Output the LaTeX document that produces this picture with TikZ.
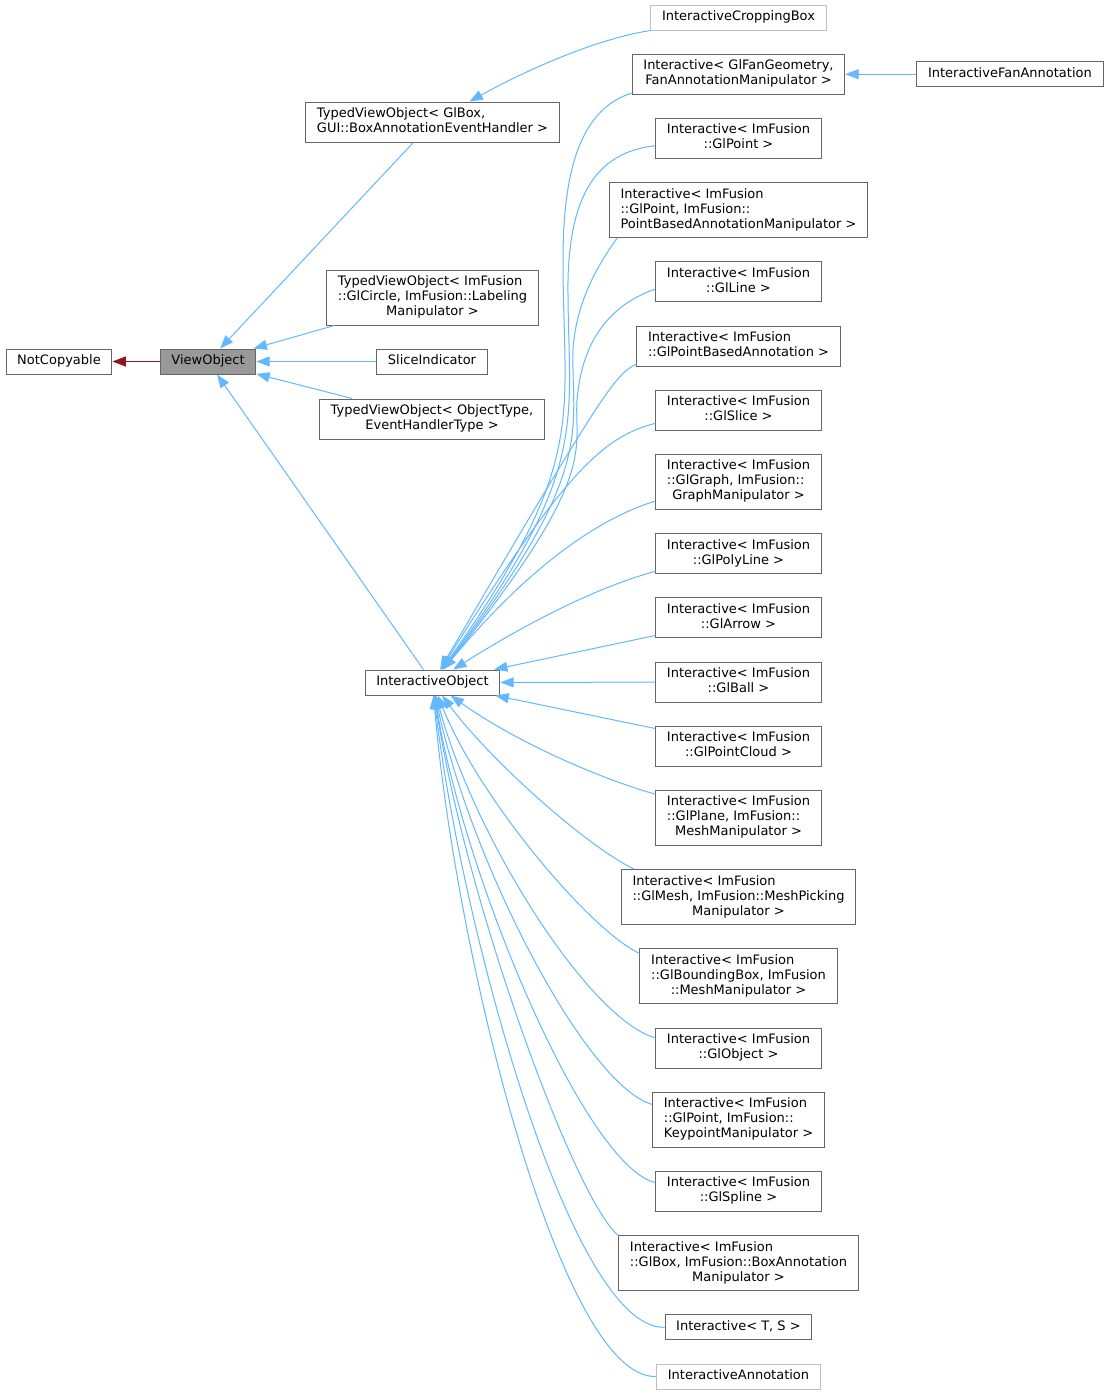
\documentclass[tikz,border=0pt]{standalone}
\usepackage{fontspec}
\setmainfont{DejaVu Sans}
\usetikzlibrary{positioning,arrows.meta}

\definecolor{boxgray}{HTML}{666666}
\definecolor{faintgray}{HTML}{BFBFBF}
\definecolor{nodefill}{HTML}{999999}
\definecolor{edgeblue}{HTML}{63B8FF}
\definecolor{edgered}{HTML}{8B1A1A}

% first lines left, last line centred
\newcommand{\classlbl}[2]{\begin{tabular}{@{}l@{}}#1\\\multicolumn{1}{@{}c@{}}{#2}\end{tabular}}

\begin{document}
\begin{tikzpicture}[x=0.75pt, y=-0.75pt,
    cls/.style = {draw=boxgray, line width=0.75pt, inner xsep=8.4pt, inner ysep=3.75pt,
                  font=\fontsize{9.75}{11.25}\selectfont, execute at begin node=\strut},
    faint/.style = {cls, draw=faintgray},
    inh/.style = {draw=edgeblue, line width=0.75pt, -{Triangle[length=10pt, width=7.5pt]}},
    node distance={17.4pt}]
    \fill[white] (0,0) rectangle (1107,1396);
    \useasboundingbox (0,0) rectangle (1107,1396);

    % left and middle
    \node[cls] (nc) at (59,361.5) {NotCopyable};
    \node[cls, fill=nodefill] (vo) at (208,361.5) {ViewObject};
    \node[cls] (gb) at (432.5,122) {\classlbl{TypedViewObject< GlBox,}{GUI::BoxAnnotationEventHandler >}};
    \node[cls] (gc) at (432.5,297.5) {\classlbl{TypedViewObject< ImFusion\\::GlCircle, ImFusion::Labeling}{Manipulator >}};
    \node[cls] (si) at (432,361.5) {SliceIndicator};
    \node[cls] (ot) at (432,419) {\classlbl{TypedViewObject< ObjectType,}{EventHandlerType >}};
    \node[cls] (io) at (432.5,682.5) {InteractiveObject};

    % right column
    \node[faint] (crop) at (738.5,17.5) {InteractiveCroppingBox};
    \node[cls] (fan) [below=of crop] {\classlbl{Interactive< GlFanGeometry,}{FanAnnotationManipulator >}};
    \node[cls] (fa) [right=53.25pt of fan] {InteractiveFanAnnotation};
    \node[cls] (gp) [below=of fan] {\classlbl{Interactive< ImFusion}{::GlPoint >}};
    \node[cls] (pb) [below=of gp] {\classlbl{Interactive< ImFusion\\::GlPoint, ImFusion::}{PointBasedAnnotationManipulator >}};
    \node[cls] (gl) [below=of pb] {\classlbl{Interactive< ImFusion}{::GlLine >}};
    \node[cls] (gpb) [below=of gl] {\classlbl{Interactive< ImFusion}{::GlPointBasedAnnotation >}};
    \node[cls] (gs) [below=of gpb] {\classlbl{Interactive< ImFusion}{::GlSlice >}};
    \node[cls] (gg) [below=of gs] {\classlbl{Interactive< ImFusion\\::GlGraph, ImFusion::}{GraphManipulator >}};
    \node[cls] (gpl) [below=of gg] {\classlbl{Interactive< ImFusion}{::GlPolyLine >}};
    \node[cls] (ga) [below=of gpl] {\classlbl{Interactive< ImFusion}{::GlArrow >}};
    \node[cls] (gba) [below=of ga] {\classlbl{Interactive< ImFusion}{::GlBall >}};
    \node[cls] (gpc) [below=of gba] {\classlbl{Interactive< ImFusion}{::GlPointCloud >}};
    \node[cls] (gpn) [below=of gpc] {\classlbl{Interactive< ImFusion\\::GlPlane, ImFusion::}{MeshManipulator >}};
    \node[cls] (gm) [below=of gpn] {\classlbl{Interactive< ImFusion\\::GlMesh, ImFusion::MeshPicking}{Manipulator >}};
    \node[cls] (gbb) [below=of gm] {\classlbl{Interactive< ImFusion\\::GlBoundingBox, ImFusion}{::MeshManipulator >}};
    \node[cls] (go) [below=of gbb] {\classlbl{Interactive< ImFusion}{::GlObject >}};
    \node[cls] (gk) [below=of go] {\classlbl{Interactive< ImFusion\\::GlPoint, ImFusion::}{KeypointManipulator >}};
    \node[cls] (gsp) [below=of gk] {\classlbl{Interactive< ImFusion}{::GlSpline >}};
    \node[cls] (gbx) [below=of gsp] {\classlbl{Interactive< ImFusion\\::GlBox, ImFusion::BoxAnnotation}{Manipulator >}};
    \node[cls] (ts) [below=of gbx] {Interactive< T, S >};
    \node[faint] (ia) [below=of ts] {InteractiveAnnotation};

    % inheritance
    \draw[inh, draw=edgered] (vo) -- (nc);
    \draw[inh] (gb) -- (vo);
    \draw[inh] (gc) -- (vo);
    \draw[inh] (si) -- (vo);
    \draw[inh] (ot) -- (vo);
    \draw[inh] (io) -- (vo);
    \draw[inh] (crop) .. controls (600,38) and (530,68) .. (gb);
    \draw[inh] (fa) -- (fan);

    % upper children
    \draw[inh] (fan.190) .. controls (585,108) and (563,160) .. (563,260) .. controls (563,420) and (590,460) .. (io);
    \draw[inh] (gp.185) .. controls (600,152) and (570,190) .. (568,280) .. controls (567,420) and (595,465) .. (io);
    \draw[inh] (pb.193) .. controls (600,262) and (576,300) .. (573,350) .. controls (571,430) and (598,470) .. (io);
    \draw[inh] (gl.185) .. controls (610,305) and (582,340) .. (577,400) .. controls (574,450) and (600,475) .. (io);
    \draw[inh] (gpb.190) .. controls (615,375) and (605,388) .. (io);
    \draw[inh] (gs.189) .. controls (600,437) and (560,480) .. (io);
    \draw[inh] (gg.193) .. controls (600,518) and (530,565) .. (io);
    \draw[inh] (gpl.192) .. controls (605,585) and (540,615) .. (io);
    \draw[inh] (ga.192) -- (io);
    \draw[inh] (gba) -- (io);

    % lower children
    \draw[inh] (gpc.168) -- (io);
    \draw[inh] (gpn.164) .. controls (610,782) and (520,745) .. (io);
    \draw[inh] (gm.165) .. controls (585,845) and (490,760) .. (io);
    \draw[inh] (gbb.167) .. controls (590,930) and (480,800) .. (io);
    \draw[inh] (go.173) .. controls (590,1020) and (475,840) .. (io);
    \draw[inh] (gk.170) .. controls (585,1085) and (470,860) .. (io);
    \draw[inh] (gsp.174) .. controls (585,1165) and (465,880) .. (io);
    \draw[inh] (gbx.167) .. controls (575,1200) and (465,900) .. (io);
    \draw[inh] (ts.west) .. controls (570,1330) and (460,920) .. (io);
    \draw[inh] (ia.west) .. controls (560,1380) and (455,950) .. (io);
\end{tikzpicture}
\end{document}
